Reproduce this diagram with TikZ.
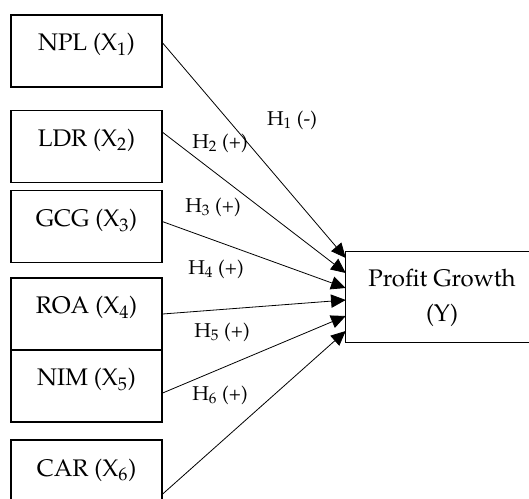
\documentclass[tikz,border=0pt]{standalone}
\usepackage[T1]{fontenc}
\usepackage{mathpazo}
\usepackage{tikz}
\usetikzlibrary{positioning, arrows.meta}

\begin{document}
\begin{tikzpicture}[
  x=0.75pt, y=-0.75pt,
  var/.style={rectangle, draw, line width=1pt, minimum width=113.25pt,
    minimum height=54pt, text height=27pt, text depth=27pt, inner sep=0pt,
    font=\fontsize{18}{22}\selectfont},
  dep/.style={rectangle, minimum width=144pt, minimum height=68.25pt,
    align=center, font=\fontsize{18}{26}\selectfont},
  hyp/.style={font=\fontsize{15}{18}\selectfont, inner sep=0pt},
  arr/.style={-{Triangle[length=11pt, width=10pt]}, line width=0.6pt}
]
  \useasboundingbox (0,0) rectangle (529,499);
  \clip (0,0) rectangle (529,499);

  % --- independent variables ---
  \node[var] (npl) at (86.5,51) {NPL (X\textsubscript{1})};
  \node[var] (ldr) [below=16.5pt of npl] {LDR (X\textsubscript{2})};
  \node[var] (gcg) [below=5.25pt of ldr] {GCG (X\textsubscript{3})};
  \node[var] (roa) [below=10.5pt of gcg] {ROA (X\textsubscript{4})};
  \node[var] (nim) [below=-1pt of roa] {NIM (X\textsubscript{5})};
  \node[var] (car) [below=12.5pt of nim] {CAR (X\textsubscript{6})};

  % --- dependent variable (box runs off the right edge) ---
  \node[dep] (pg) at (442,297.5) {Profit Growth\\(Y)};
  \draw[line width=1pt] (pg.north west) rectangle ++(260,91);

  % --- hypotheses ---
  \draw[arr] ([shift={(0,-8)}]npl.east) -- ([shift={(0,-39.5)}]pg.west);
  \draw[arr] ([shift={(0,-14)}]ldr.east) -- ([shift={(0,-24.5)}]pg.west);
  \draw[arr] ([shift={(0,-5)}]gcg.east) -- ([shift={(0,-9.5)}]pg.west);
  \draw[arr] (roa.east) -- ([shift={(0,2.5)}]pg.west);
  \draw[arr] ([shift={(0,7)}]nim.east) -- ([shift={(0,18.5)}]pg.west);
  \draw[arr] ([shift={(0,18)}]car.east) -- ([shift={(0,33.5)}]pg.west);

  \node[hyp] (h1) at (292,120) {H\textsubscript{1} (-)};
  \node[hyp] (h2) at (220,143) {H\textsubscript{2} (+)};
  \node[hyp] (h3) at (213,207) {H\textsubscript{3} (+)};
  \node[hyp] (h4) at (216,269) {H\textsubscript{4} (+)};
  \node[hyp] (h5) at (222,332) {H\textsubscript{5} (+)};
  \node[hyp] (h6) at (220,395) {H\textsubscript{6} (+)};
\end{tikzpicture}
\end{document}
